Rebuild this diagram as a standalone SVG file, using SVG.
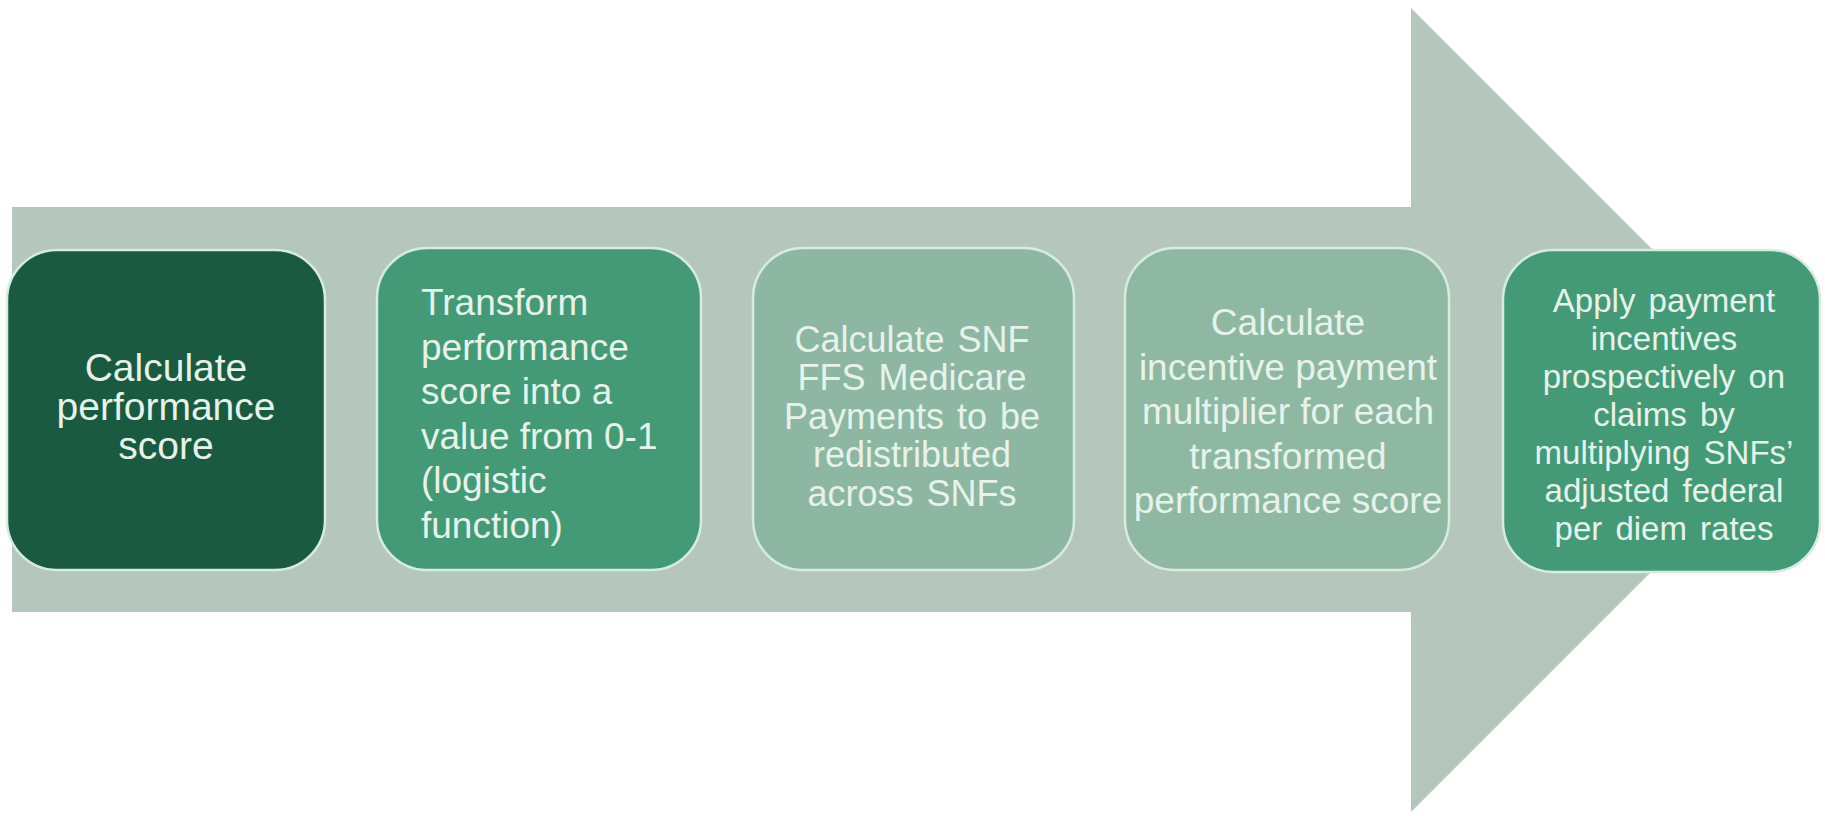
<svg xmlns="http://www.w3.org/2000/svg" width="1825" height="816" viewBox="0 0 1825 816">
<style>
.box{stroke:#d6ece0;stroke-width:2.5}
.t{font-family:"Liberation Sans",Arial,sans-serif;fill:#e6f2ea}
.c{text-anchor:middle}
</style>
<rect width="1825" height="816" fill="#ffffff"/>
<g id="arrow">
<polygon points="12,207 1411,207 1411,8 1813,410 1411,812 1411,612 12,612" fill="#b5c7bc"/>
</g>
<g id="connectors"></g>
<g id="node1">
<rect class="box" x="7" y="250" width="318" height="320" rx="50" fill="#1a5a41"/>
<text class="t c" font-size="39" x="166"><tspan x="166" y="381">Calculate</tspan><tspan x="166" y="420">performance</tspan><tspan x="166" y="459">score</tspan></text>
</g>
<g id="node2">
<rect class="box" x="377" y="248" width="324" height="322" rx="50" fill="#449a76"/>
<text class="t" font-size="37"><tspan x="421" y="315">Transform</tspan><tspan x="421" y="359.6">performance</tspan><tspan x="421" y="404.2">score into a</tspan><tspan x="421" y="448.8">value from 0-1</tspan><tspan x="421" y="493.4">(logistic</tspan><tspan x="421" y="538">function)</tspan></text>
</g>
<g id="node3">
<rect class="box" x="753" y="248" width="321" height="322" rx="50" fill="#8db7a2"/>
<text class="t c" font-size="36" word-spacing="3"><tspan x="912" y="352">Calculate SNF</tspan><tspan x="912" y="390.4">FFS Medicare</tspan><tspan x="912" y="428.8">Payments to be</tspan><tspan x="912" y="467.2">redistributed</tspan><tspan x="912" y="505.6">across SNFs</tspan></text>
</g>
<g id="node4">
<rect class="box" x="1125" y="248" width="324" height="322" rx="50" fill="#8fb8a3"/>
<text class="t c" font-size="37"><tspan x="1288" y="335">Calculate</tspan><tspan x="1288" y="379.5">incentive payment</tspan><tspan x="1288" y="424">multiplier for each</tspan><tspan x="1288" y="468.5">transformed</tspan><tspan x="1288" y="513">performance score</tspan></text>
</g>
<g id="node5">
<rect class="box" x="1503" y="250" width="317" height="322" rx="50" fill="#449a76"/>
<text class="t c" font-size="33" word-spacing="4"><tspan x="1664" y="312">Apply payment</tspan><tspan x="1664" y="350">incentives</tspan><tspan x="1664" y="388">prospectively on</tspan><tspan x="1664" y="426">claims by</tspan><tspan x="1664" y="463.5">multiplying SNFs’</tspan><tspan x="1664" y="501.5">adjusted federal</tspan><tspan x="1664" y="539.5">per diem rates</tspan></text>
</g>
</svg>
